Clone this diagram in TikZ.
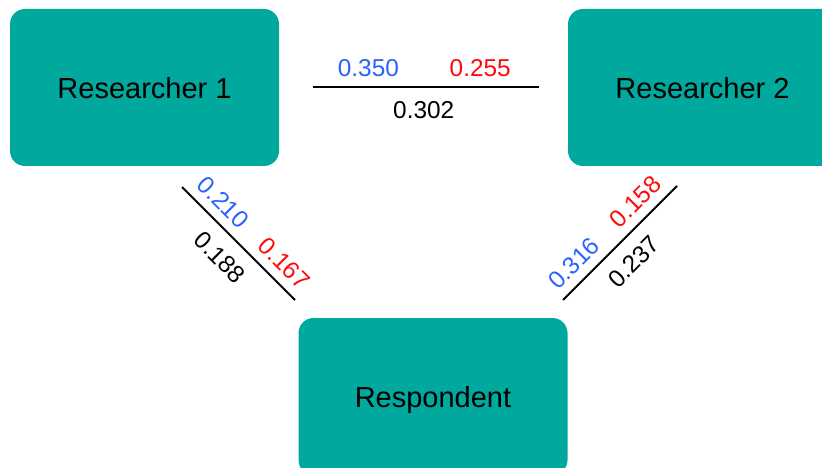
\documentclass[tikz,border=0pt]{standalone}
\usepackage{fontspec}
\setmainfont{Liberation Sans}
\definecolor{teal1}{RGB}{0,168,158}
\definecolor{blue1}{RGB}{41,98,255}
\definecolor{red1}{RGB}{255,10,10}
\begin{document}
\begin{tikzpicture}[x=1pt,y=-1pt,
  box/.style={fill=teal1, rounded corners=15pt, minimum width=269pt, minimum height=157pt, inner sep=0pt, text depth=0pt, font=\fontsize{29}{34}\selectfont},
  conn/.style={line width=1.8pt, black},
  lbl/.style={inner sep=0pt, sloped, font=\fontsize{24.4}{28}\selectfont},
  up/.style={lbl, above=8.7pt},
  dn/.style={lbl, below=13.5pt},
]
\clip (0,0) rectangle (822,468);
\node[box] (r1) at (144.5,87.5) {Researcher 1};
\node[box] (r2) at (702.5,87.5) {Researcher 2};
\node[box] (resp) at (433,396.5) {Respondent};
\coordinate (h1) at (313,86.7);
\coordinate (h2) at (539,86.7);
\coordinate (l1) at (182,187);
\coordinate (l2) at (295,300);
\coordinate (q1) at (563,300);
\coordinate (q2) at (677,186);
\draw[conn] (h1) -- node[up, pos=0.245, text=blue1]{0.350}
                    node[up, pos=0.74, text=red1]{0.255}
                    node[dn, pos=0.49]{0.302} (h2);
\draw[conn] (l1) -- node[up, pos=0.25, text=blue1]{0.210}
                    node[up, pos=0.79, text=red1]{0.167}
                    node[dn, pos=0.48]{0.188} (l2);
\draw[conn] (q1) -- node[up, pos=0.21, text=blue1]{0.316}
                    node[up, pos=0.75, text=red1]{0.158}
                    node[dn, pos=0.48]{0.237} (q2);
\end{tikzpicture}
\end{document}
